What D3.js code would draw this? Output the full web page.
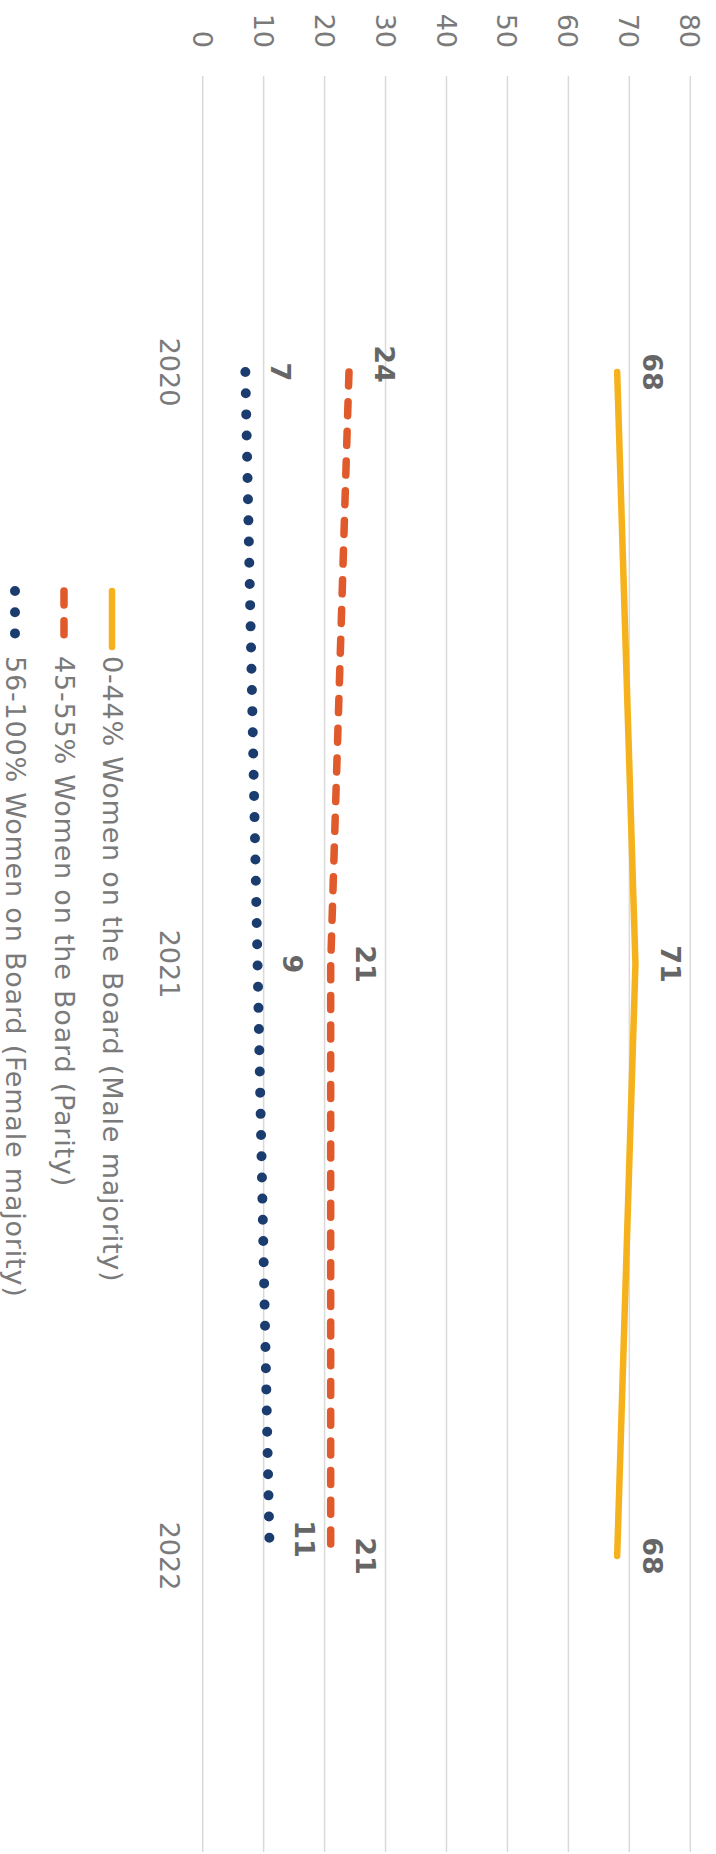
<!DOCTYPE html>
<html>
<head>
<meta charset="utf-8">
<script src="https://cdn.jsdelivr.net/npm/d3@7/dist/d3.min.js"></script>
<style>
  html, body { margin: 0; padding: 0; background: #fff; }
  svg { display: block; }
</style>
</head>
<body>
<svg id="chart" width="716" height="1854"></svg>
<script>
// Share of companies by board gender composition, 2020-2022
const years = ["2020", "2021", "2022"];
const maleMajority = [68, 71, 68];
const parity = [24, 21, 21];
const femaleMajority = [7, 9, 11];
const yTicks = [0, 10, 20, 30, 40, 50, 60, 70, 80];
const seriesNames = [
  "0-44% Women on the Board (Male majority)",
  "45-55% Women on the Board (Parity)",
  "56-100% Women on Board (Female majority)"
];

const W = 716, H = 1854;
const lightFont = "'DejaVu Sans ExtraLight', 'DejaVu Sans', sans-serif";
const boldFont = "'DejaVu Sans', sans-serif";

const series = [
  { name: seriesNames[0], values: maleMajority, color: "#F5B21C", width: 6.5, dash: null, cap: "round" },
  { name: seriesNames[1], values: parity, color: "#E05A2B", width: 7.5, dash: "14,15.7", cap: "round" },
  { name: seriesNames[2], values: femaleMajority, color: "#1B3C6E", width: 10, dash: "0,21.2", cap: "round" }
];

const svg = d3.select("#chart");
// The chart is laid out horizontally, then turned a quarter turn clockwise.
const g = svg.append("g").attr("transform", `translate(${W},0) rotate(90)`);

const x = d3.scaleBand().domain(years).range([76, 1852]);
const y = d3.scaleLinear().domain([0, 80]).range([513.3, 25.7]);
const cx = d => x(d) + x.bandwidth() / 2;

// gridlines
g.append("g").selectAll("line").data(yTicks).join("line")
  .attr("x1", 76).attr("x2", 1852)
  .attr("y1", d => y(d)).attr("y2", d => y(d))
  .attr("stroke", "#d9d9d9").attr("stroke-width", 1.5);

// value axis labels
const yAxis = d3.axisLeft(y).tickValues(yTicks).tickSize(0).tickPadding(0);
const ya = g.append("g").attr("transform", "translate(48,0)").call(yAxis);
ya.select(".domain").remove();
ya.selectAll("text")
  .attr("font-family", lightFont).attr("font-size", 27).attr("fill", "#7a7a7a")
  .attr("dy", "0.35em");

// year labels
const xAxis = d3.axisBottom(x).tickSize(0).tickPadding(0);
const xa = g.append("g").attr("transform", "translate(0,547)").call(xAxis);
xa.select(".domain").remove();
xa.selectAll("text")
  .attr("font-family", lightFont).attr("font-size", 27).attr("fill", "#7a7a7a")
  .attr("dy", "0.35em");

// lines
const line = d3.line().x((d, i) => cx(years[i])).y(d => y(d));
series.forEach(s => {
  g.append("path")
    .attr("d", line(s.values))
    .attr("fill", "none")
    .attr("stroke", s.color)
    .attr("stroke-width", s.width)
    .attr("stroke-linecap", s.cap)
    .attr("stroke-linejoin", "round")
    .attr("stroke-dasharray", s.dash);
});

// value labels above each point
const labelShift = { "1|0": -8, "2|2": -17 };
series.forEach((s, si) => {
  g.append("g").selectAll("text").data(s.values).join("text")
    .attr("x", (d, i) => cx(years[i]) + (labelShift[si + "|" + i] || 0))
    .attr("y", d => y(d) - 35)
    .attr("dy", "0.35em")
    .attr("text-anchor", "middle")
    .attr("font-family", boldFont).attr("font-weight", "bold")
    .attr("font-size", 27).attr("fill", "#666")
    .text(d => d);
});

// legend
const legend = g.append("g");
const rowY = [604, 652, 701];
series.forEach((s, i) => {
  const r = legend.append("g").attr("transform", `translate(0,${rowY[i]})`);
  r.append("line")
    .attr("x1", 591).attr("x2", 647).attr("y1", 0).attr("y2", 0)
    .attr("stroke", s.color).attr("stroke-width", s.width)
    .attr("stroke-linecap", s.cap).attr("stroke-dasharray", s.dash);
  r.append("text")
    .attr("x", 656).attr("y", 0).attr("dy", "0.35em")
    .attr("font-family", lightFont).attr("font-size", 27).attr("fill", "#7a7a7a")
    .attr("letter-spacing", 0.8)
    .text(s.name);
});
</script>
</body>
</html>
